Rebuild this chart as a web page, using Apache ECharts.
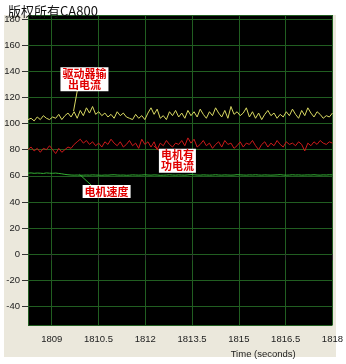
<!DOCTYPE html>
<html>
<head>
<meta charset="utf-8">
<script src="https://cdn.jsdelivr.net/npm/echarts@6/dist/echarts.min.js"></script>
<style>html,body{margin:0;padding:0;background:#fff}#c{width:346px;height:364px}</style>
</head>
<body>
<div id="c"></div>
<script>
// sampling clock (seconds)
const sampleStart = 1808.24;
const sampleEnd = 1818;
// driver output current (yellow)
const driverCurrent = [
103,104,102,105,103,106,104,103,105,104,
107,103,106,108,105,109,104,110,106,112,
108,113,107,109,106,108,105,107,104,109,
106,108,105,104,103,107,104,106,103,108,
112,107,111,104,106,103,109,106,110,105,
108,104,110,106,109,105,111,107,104,109,
106,112,108,105,110,104,113,107,109,106,
108,112,105,109,104,108,103,107,110,106,
108,104,107,105,109,106,111,107,104,110,
106,112,108,105,109,107,104,106,105,108
];
// motor active current (red)
const motorActiveCurrent = [
80,82,79,81,78,81,80,83,80,77,
81,78,80,82,81,84,86,88,85,87,
84,86,83,85,82,86,84,88,85,83,
86,82,84,87,83,85,81,88,84,86,
82,86,80,85,83,87,84,82,85,84,
87,83,89,85,88,82,84,87,83,85,
81,84,86,82,87,84,85,81,83,86,
82,85,84,87,83,80,84,86,82,85,
83,87,84,82,86,84,85,83,86,84,
79,85,83,86,84,87,85,84,86,85
];
// motor speed (green)
const motorSpeed = [
62,62.2,61.9,62.1,62,61.8,62.2,62,61.9,62.1,
61.8,61.5,61.1,60.8,60.6,60.5,60.6,60.4,60.5,60.6,
60.5,60.7,60.6,60.5,60.4,60.6,60.5,60.7,60.8,60.6,
60.5,60.6,60.4,60.5,60.7,60.6,60.5,60.6,60.8,60.6,
60.5,60.7,60.6,60.4,60.5,60.6,60.8,60.6,60.5,60.7,
60.6,60.5,60.7,61,60.8,60.6,60.5,60.7,60.6,60.5,
60.6,60.8,60.6,60.5,60.7,60.6,60.5,60.6,60.9,60.7,
60.6,60.5,60.7,60.6,60.8,60.6,60.5,60.7,60.6,60.5,
60.6,60.7,60.9,60.6,60.5,60.6,60.8,60.6,60.7,60.5,
60.6,60.7,60.6,60.8,60.6,60.5,60.7,60.6,60.8,60.7
];
const seriesNames = ['驱动器输出电流', '电机有功电流', '电机速度'];
const calloutTexts = ['驱动器输\n出电流', '电机有\n功电流', '电机速度'];
// callout box centres and pointer ends, in data units [time, value]
const calloutBox = [[1810.05, 133.8], [1813.03, 71.6], [1810.76, 47.9]];
const pointerFrom = [[1809.82, 125.1], [1812.27, 82.9], [1809.89, 61.1]];
const pointerTo = [[1809.70, 109.5], [1812.46, 79.1], [1810.27, 52.8]];
const titleText = '版权所有CA800';
const xName = 'Time (seconds)';

const n = driverCurrent.length;
const step = (sampleEnd - sampleStart) / (n - 1);
const times = driverCurrent.map((_, i) => sampleStart + i * step);
const pair = arr => arr.map((v, i) => [times[i], v]);
const colors = ['#d8d862', '#cc1a1a', '#33b033'];
const values = [driverCurrent, motorActiveCurrent, motorSpeed];
const gridColor = '#215e21';
const labelFont = {fontFamily: 'Liberation Sans', fontSize: 9.5, color: '#222'};

const chart = echarts.init(document.getElementById('c'), null, {renderer: 'canvas'});
chart.setOption({
  animation: false,
  backgroundColor: '#ffffff',
  title: {
    text: titleText, left: 3, top: 0,
    textStyle: {fontFamily: 'Noto Sans CJK SC', fontSize: 13, fontWeight: 'normal', color: '#111'}
  },
  graphic: [{
    type: 'rect', z: -100, silent: true,
    shape: {x: 4, y: 15, width: 332, height: 342},
    style: {fill: '#ebe8dc'}
  }],
  grid: {left: 28, top: 15, right: 10, bottom: 34, show: true, backgroundColor: '#000', borderWidth: 0},
  xAxis: {
    type: 'value', min: sampleStart, max: sampleEnd, minInterval: 1.5, maxInterval: 1.5,
    axisLine: {show: false},
    axisTick: {show: true, length: 6, lineStyle: {color: '#333'}},
    axisLabel: Object.assign({
      showMinLabel: false, margin: 9,
      formatter: v => String(Math.round(v * 10) / 10)
    }, labelFont),
    splitLine: {show: true, lineStyle: {color: gridColor, width: 1}},
    name: xName, nameLocation: 'middle', nameGap: 20,
    nameTextStyle: Object.assign({padding: [0, 0, 0, 166]}, labelFont)
  },
  yAxis: {
    type: 'value', min: -54.2, max: 183, minInterval: 20, maxInterval: 20, splitNumber: 12,
    axisLine: {show: false},
    axisTick: {show: true, length: 6, lineStyle: {color: '#333'}},
    axisLabel: Object.assign({
      showMinLabel: false, showMaxLabel: false, margin: 8,
      formatter: v => String(Math.round(v))
    }, labelFont),
    splitLine: {show: true, lineStyle: {color: gridColor, width: 1}}
  },
  series: values.map((arr, k) => ({
    name: seriesNames[k],
    type: 'line',
    data: pair(arr),
    symbol: 'none',
    lineStyle: {color: colors[k], width: 1},
    itemStyle: {color: colors[k]},
    z: 3,
    markLine: {
      silent: true, symbol: ['none', 'none'],
      lineStyle: {color: colors[k], type: 'solid', width: 1},
      label: {show: false},
      data: [[{coord: pointerFrom[k]}, {coord: pointerTo[k]}]]
    },
    markPoint: {
      silent: true,
      symbol: 'rect', symbolSize: 1,
      itemStyle: {color: 'rgba(0,0,0,0)'},
      label: {
        show: true, position: 'inside', formatter: calloutTexts[k],
        fontFamily: 'Noto Sans CJK SC', fontSize: 11, fontWeight: 'bold', lineHeight: 11,
        color: '#e00000', backgroundColor: '#ffffff', padding: [1, 2, 1, 2], align: 'center'
      },
      data: [{coord: calloutBox[k]}]
    }
  }))
});
</script>
</body>
</html>
